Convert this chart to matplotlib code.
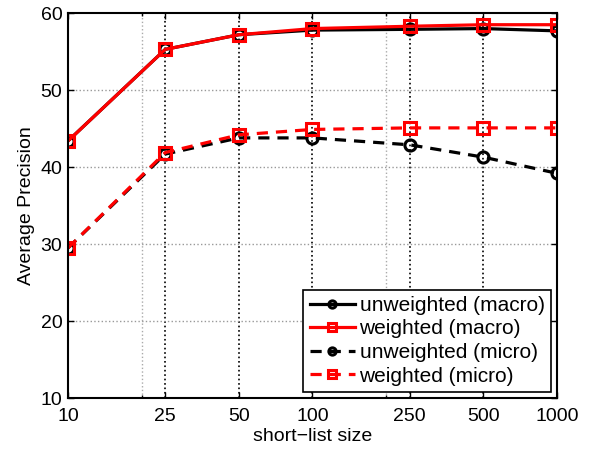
import numpy as np
import matplotlib
matplotlib.use('Agg')
import matplotlib.pyplot as plt
from matplotlib.ticker import FixedLocator, NullFormatter

plt.rcParams['font.family'] = ['Liberation Sans', 'DejaVu Sans']

sizes = [10, 25, 50, 100, 250, 500, 1000]
tick_labels = ['10', '25', '50', '100', '250', '500', '1000']

unweighted_macro = [43.4, 55.3, 57.2, 57.8, 57.9, 58.0, 57.7]
weighted_macro = [43.4, 55.3, 57.2, 58.0, 58.3, 58.5, 58.5]
unweighted_micro = [29.5, 41.7, 43.8, 43.8, 42.9, 41.3, 39.2]
weighted_micro = [29.5, 41.9, 44.2, 44.9, 45.1, 45.1, 45.1]

fig = plt.figure(figsize=(5.91, 4.54), dpi=100)
ax = fig.add_axes([0.115, 0.123, 0.8275, 0.848])

ax.set_xscale('log')
ax.set_xlim(10, 1000)
ax.set_ylim(10, 60)

# grid: minor (20, 200) light grey, major x black, y light grey
for xv in [20, 200]:
    ax.axvline(xv, color='#aaaaaa', ls=':', lw=1, zorder=0)
for xv in sizes[1:-1]:
    ax.axvline(xv, color='black', ls=':', lw=1.2, zorder=0)
for yv in [20, 30, 40, 50]:
    ax.axhline(yv, color='#999999', ls=':', lw=1, zorder=0)

mk = dict(markersize=8, markeredgewidth=2.2, markerfacecolor='none', linewidth=2.3)
ax.plot(sizes, unweighted_macro, '-', color='black', marker='o', label='unweighted (macro)', **mk)
ax.plot(sizes, weighted_macro, '-', color='red', marker='s', label='weighted (macro)', **mk)
ax.plot(sizes, unweighted_micro, '--', color='black', marker='o', label='unweighted (micro)', dashes=(3.5, 2.5), **mk)
ax.plot(sizes, weighted_micro, '--', color='red', marker='s', label='weighted (micro)', dashes=(3.5, 2.5), **mk)

ax.xaxis.set_major_locator(FixedLocator(sizes))
ax.set_xticklabels(tick_labels)
ax.xaxis.set_minor_formatter(NullFormatter())
ax.xaxis.set_minor_locator(FixedLocator([20, 200]))
ax.set_yticks([10, 20, 30, 40, 50, 60])

ax.tick_params(direction='in', which='both', top=True, right=True, labelsize=14, length=4, width=1)
ax.tick_params(axis='x', pad=7)
ax.tick_params(axis='y', pad=4)
ax.tick_params(which='minor', length=2)
for s in ax.spines.values():
    s.set_linewidth(1.5)

ax.set_xlabel('short\u2212list size', fontsize=14, labelpad=2)
ax.set_ylabel('Average Precision', fontsize=14, labelpad=4)

leg = ax.legend(loc='lower right', fontsize=15, frameon=True, fancybox=False,
                edgecolor='black', borderaxespad=0.3, handlelength=2.2,
                handletextpad=0.2, labelspacing=0.22, borderpad=0.3, markerscale=0.65)
leg.get_frame().set_linewidth(1.2)
leg.get_frame().set_alpha(1)

fig.savefig('out.png', dpi=100)
